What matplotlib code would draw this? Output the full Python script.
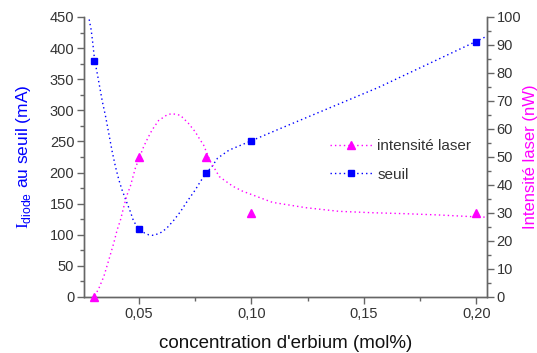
import matplotlib
matplotlib.use("Agg")
import matplotlib.pyplot as plt
from matplotlib.ticker import MultipleLocator, FuncFormatter
from matplotlib.lines import Line2D

plt.rcParams['font.family'] = ['Liberation Sans', 'DejaVu Sans']
plt.rcParams['mathtext.fontset'] = 'custom'
plt.rcParams['mathtext.rm'] = 'Liberation Serif'
plt.rcParams['mathtext.sf'] = 'Liberation Sans'

# measured points
conc = [0.03, 0.05, 0.08, 0.10, 0.20]
seuil = [380, 110, 200, 250, 410]            # mA
intensite = [0, 50, 50, 30, 30]              # nW

# fitted curves
seuil_fit_x = [0.0280, 0.0289, 0.0296, 0.0304, 0.0316, 0.0338, 0.0353, 0.0367, 0.0382,
               0.0397, 0.0412, 0.0426, 0.0448, 0.0463, 0.0478, 0.0503, 0.0525, 0.0544,
               0.0566, 0.0596, 0.0623, 0.0655, 0.0685, 0.0714, 0.0751, 0.0773, 0.0801,
               0.0824, 0.0850, 0.0901, 0.1000, 0.1124, 0.1566, 0.2000, 0.2040]
seuil_fit_y = [446, 429, 408, 381, 359, 315, 290, 263, 234,
               209, 188, 172, 151, 137, 121, 110, 103, 100,
               99, 103, 110, 123, 137, 153, 172, 185, 200,
               209, 223, 236, 251, 270, 337, 411, 418]

int_fit_x = [0.0305, 0.0323, 0.0345, 0.0367, 0.0389, 0.0404, 0.0419, 0.0434, 0.0448,
             0.0463, 0.0485, 0.0522, 0.0540, 0.0559, 0.0588, 0.0625, 0.0647, 0.0685,
             0.0721, 0.0751, 0.0773, 0.0788, 0.0817, 0.0858, 0.0917, 0.0961, 0.1094,
             0.1242, 0.1389, 0.1537, 0.1685, 0.1832, 0.1979, 0.2045]
int_fit_y = [0.4, 3.1, 7.3, 13.2, 19.2, 23.9, 27.5, 32.3, 36.4,
             39.6, 46.0, 53.7, 56.7, 59.6, 63.0, 65.0, 65.5, 64.9,
             62.0, 59.0, 56.1, 54.3, 48.6, 43.0, 39.6, 37.8, 33.8,
             31.9, 30.6, 30.1, 29.75, 29.3, 28.7, 28.5]

x_ticks = [0.05, 0.10, 0.15, 0.20]

BLUE = '#0000FF'
MAG = '#FF00FF'
GRAY = '#666666'
TXT = '#333333'
dots = (0, (1, 2.2))

fig = plt.figure(figsize=(5.37, 3.53), dpi=100)
ax = fig.add_axes([84/537, 1-297/353, (487-84)/537, (297-17)/353])
ax2 = ax.twinx()

ax.plot(seuil_fit_x, seuil_fit_y, linestyle=dots, color=BLUE, lw=1.0, clip_on=False)
ax.plot(conc, seuil, linestyle='none', marker='s', ms=5.0, color=BLUE, clip_on=False, zorder=5)

ax2.plot(int_fit_x, int_fit_y, linestyle=dots, color=MAG, lw=1.0, clip_on=False)
ax2.plot(conc, intensite, linestyle='none', marker='^', ms=5.8, color=MAG, clip_on=False, zorder=5)

ax.set_xlim(0.0257, 0.2047)
ax.set_ylim(0, 450)
ax2.set_ylim(0, 100)

ax.set_xticks(x_ticks)
ax.xaxis.set_minor_locator(MultipleLocator(0.025))
ax.xaxis.set_major_formatter(FuncFormatter(lambda v, p: f"{v:.2f}".replace('.', ',')))
ax.yaxis.set_major_locator(MultipleLocator(50))
ax.yaxis.set_minor_locator(MultipleLocator(25))
ax2.yaxis.set_major_locator(MultipleLocator(10))
ax2.yaxis.set_minor_locator(MultipleLocator(5))

for a in (ax, ax2):
    for s in a.spines.values():
        s.set_color(GRAY)
        s.set_linewidth(1.0)
    a.spines['top'].set_visible(False)
    a.tick_params(which='major', length=5, width=1, color=GRAY, labelsize=10.5,
                  labelcolor=TXT, direction='out', pad=2)
    a.tick_params(which='minor', length=3, width=1, color=GRAY, direction='out')

ax.set_xlabel("concentration d'erbium (mol%)", fontsize=13.5, color='#111111', labelpad=10)
ax.set_ylabel(r"$\mathrm{I}_{\mathsf{diode}}$ au seuil (mA)", fontsize=12.5, color=BLUE, labelpad=12)
ax2.set_ylabel("Intensité laser (nW)", fontsize=12, color=MAG, labelpad=1)

h1 = Line2D([], [], linestyle=dots, color=MAG, lw=1.0, marker='^', ms=5.8)
h2 = Line2D([], [], linestyle=dots, color=BLUE, lw=1.0, marker='s', ms=5.0)
leg = ax2.legend([h1, h2], ['intensité laser', 'seuil'], frameon=False, fontsize=11,
                 loc='upper left', bbox_to_anchor=(0.595, 0.585), handlelength=2.8,
                 handletextpad=0.3, labelspacing=0.93, borderaxespad=0)
for t in leg.get_texts():
    t.set_color(TXT)

fig.savefig('out.png', dpi=100)
